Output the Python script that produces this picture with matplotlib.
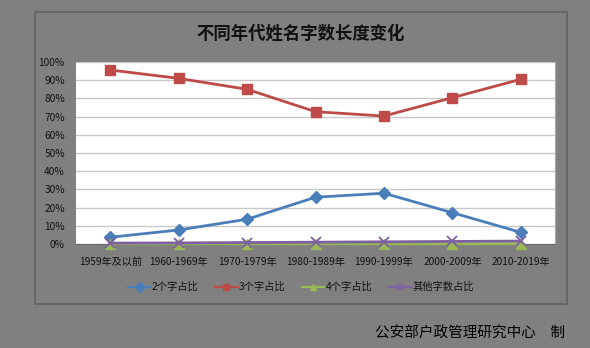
import matplotlib
matplotlib.use("Agg")
import matplotlib.pyplot as plt
from matplotlib.patches import Rectangle
from matplotlib.ticker import MultipleLocator, FuncFormatter

plt.rcParams['font.family'] = ['Noto Sans CJK SC', 'DejaVu Sans']

categories = ["1959年及以前", "1960-1969年", "1970-1979年", "1980-1989年",
              "1990-1999年", "2000-2009年", "2010-2019年"]
two_chars = [3.7, 7.7, 13.6, 25.7, 27.9, 17.2, 6.4]
three_chars = [95.6, 91.0, 85.0, 72.7, 70.3, 80.4, 90.5]
four_chars = [0.1, 0.1, 0.1, 0.1, 0.1, 0.1, 0.2]
other_chars = [0.5, 0.6, 0.8, 1.0, 1.2, 1.4, 1.6]
series_names = ["2个字占比", "3个字占比", "4个字占比", "其他字数占比"]
title = "不同年代姓名字数长度变化"
credit = "公安部户政管理研究中心　制"

W, H = 590, 348
fig = plt.figure(figsize=(W / 100, H / 100), dpi=100)
fig.patch.set_facecolor('#808080')

# chart frame
fig.add_artist(Rectangle((35 / W, 1 - 304 / H), 532 / W, 292 / H,
                         transform=fig.transFigure, facecolor='#808080',
                         edgecolor='#626262', linewidth=1.2, zorder=0))

ax = fig.add_axes([76 / W, 1 - 244 / H, 479 / W, 182 / H])
ax.set_facecolor('white')

x = list(range(len(categories)))
styles = [
    (two_chars, '#4a7ebb', 'D', 6),
    (three_chars, '#be4b48', 's', 7),
    (four_chars, '#98b954', '^', 7),
    (other_chars, '#7d60a0', 'x', 7),
]
for (vals, col, mk, ms), name in zip(styles, series_names):
    kw = dict(markeredgewidth=1.3) if mk == 'x' else dict(markeredgecolor=col)
    ax.plot(x, vals, color=col, linewidth=2.0, marker=mk, markersize=ms,
            markerfacecolor=col, label=name, clip_on=False, zorder=3, **kw)

ax.set_xlim(-0.5, len(categories) - 0.5)
ax.set_ylim(0, 100)
ax.yaxis.set_major_locator(MultipleLocator(10))
ax.yaxis.set_major_formatter(FuncFormatter(lambda v, p: f"{int(round(v))}%"))
ax.grid(axis='y', color='#c8c8c8', linewidth=1.0, zorder=0)
ax.set_axisbelow(True)
ax.set_xticks(x)
ax.set_xticklabels(categories, fontsize=7.3, color='#111111')
ax.tick_params(axis='y', length=0, labelsize=7.3, labelcolor='#111111', pad=8)
ax.tick_params(axis='x', length=0, pad=9)
for s in ['left', 'top']:
    ax.spines[s].set_visible(False)
ax.spines['right'].set_color('#a8a8a8')
ax.spines['bottom'].set_color('#6a6a6a')

fig.text(301 / W, 1 - 34 / H, title, ha='center', va='center',
         fontsize=12.5, color='#111111', fontweight='bold')

leg = fig.legend(loc='center', bbox_to_anchor=(301 / W, 1 - 287 / H),
                 ncol=4, frameon=False, fontsize=7.4, handlelength=2.2,
                 handletextpad=0.1, columnspacing=1.6, labelcolor='#111111')
for h in leg.legend_handles:
    h.set_markersize(5)
    h.set_linewidth(1.6)

fig.text(565 / W, 1 - 334 / H, credit, ha='right', va='center',
         fontsize=10.5, color='#000000')

fig.savefig("out.png", dpi=100, facecolor=fig.get_facecolor())
